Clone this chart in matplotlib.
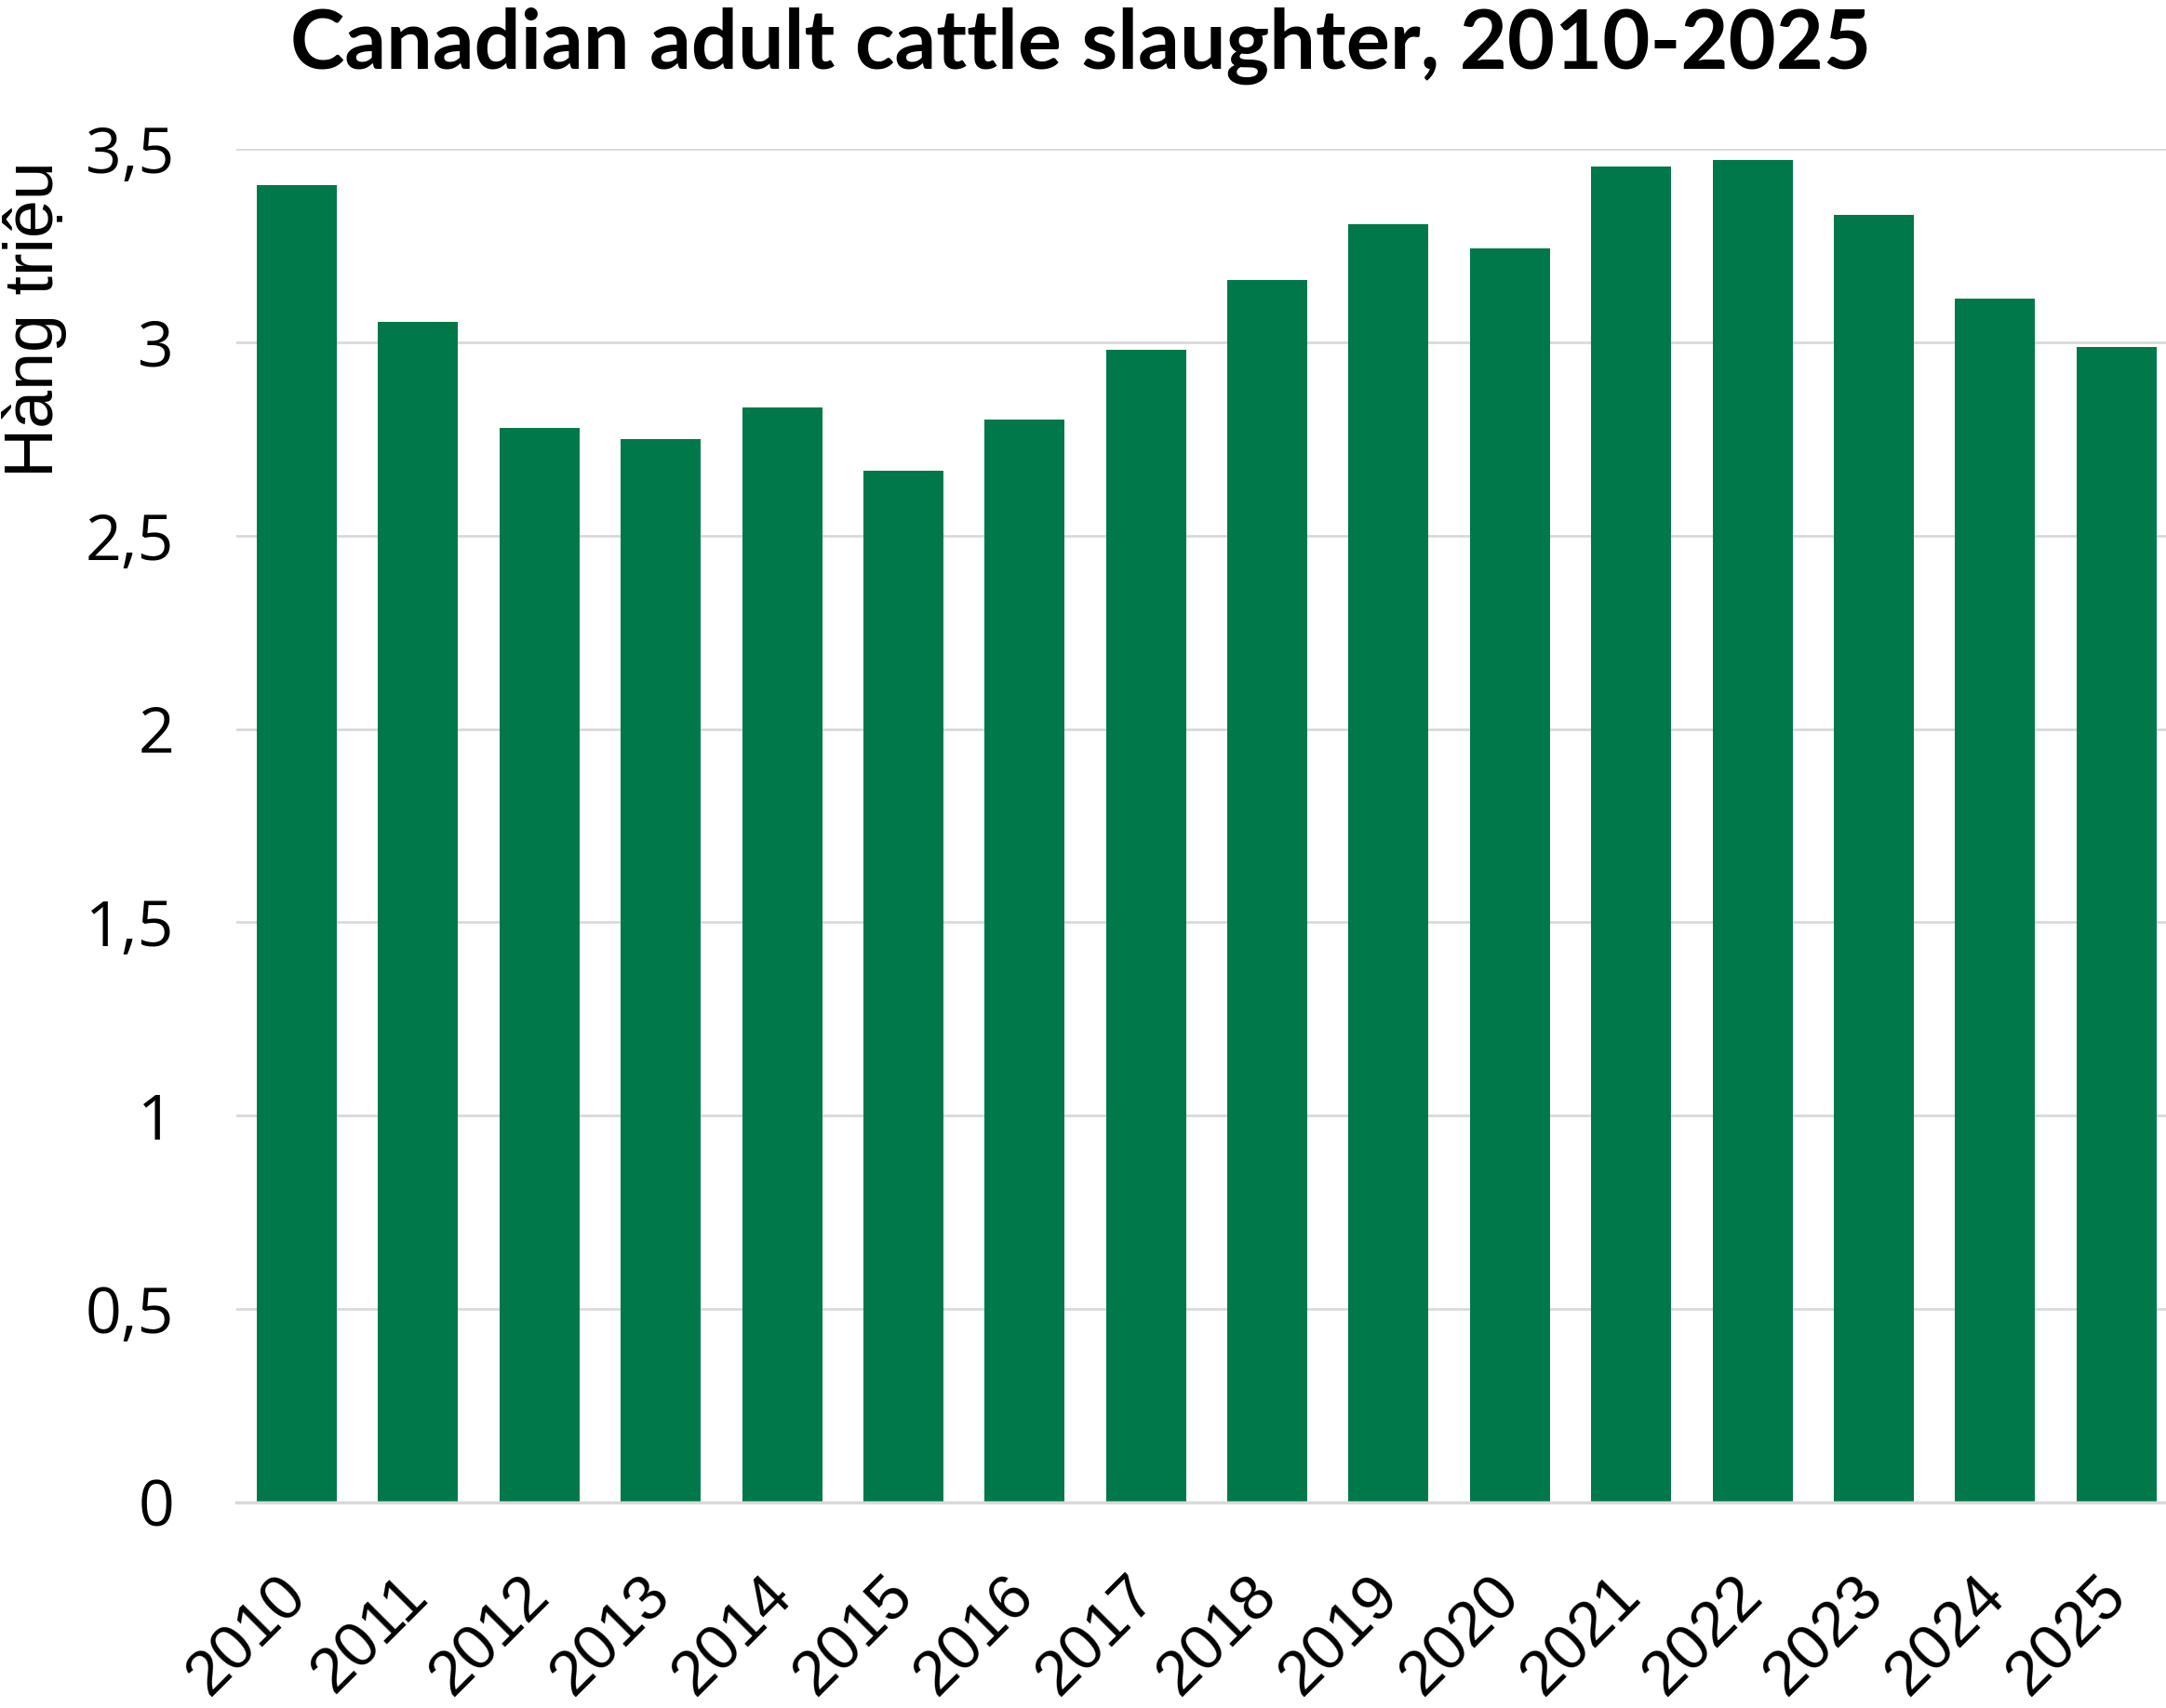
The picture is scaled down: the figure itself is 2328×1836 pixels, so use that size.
import matplotlib
matplotlib.use("Agg")
import matplotlib.pyplot as plt
from matplotlib.transforms import ScaledTranslation

years = ["2010", "2011", "2012", "2013", "2014", "2015", "2016", "2017",
         "2018", "2019", "2020", "2021", "2022", "2023", "2024", "2025"]
slaughter_millions = [3.407, 3.054, 2.779, 2.750, 2.832, 2.668, 2.800, 2.982,
                      3.161, 3.307, 3.243, 3.454, 3.471, 3.329, 3.114, 2.989]
yticks = [0, 0.5, 1, 1.5, 2, 2.5, 3, 3.5]
ytick_labels = ["0", "0,5", "1", "1,5", "2", "2,5", "3", "3,5"]
title = "Canadian adult cattle slaughter, 2010-2025"
ylabel = "Hàng triệu"

GREEN = "#00784A"
GRID = "#D9D9D9"

fig = plt.figure(figsize=(23.28, 18.36), dpi=100)
ax = fig.add_axes([171/1568, 1 - 1088/1237, (1576 - 171)/1568, (1088 - 108)/1237])

x = list(range(len(years)))
ax.bar(x, slaughter_millions, width=0.66, color=GREEN, zorder=2)
ax.set_xlim(-0.5, len(years) - 0.5)
ax.set_ylim(0, 3.5)

ax.set_yticks(yticks)
ax.set_yticklabels(ytick_labels, fontsize=49, family=["Open Sans", "DejaVu Sans"])
ax.set_xticks(x)
ax.set_xticklabels(years, fontsize=49, rotation=45, ha="right", va="top",
                   rotation_mode="anchor", family=["Liberation Sans", "DejaVu Sans"])
ax.tick_params(axis="both", length=0)
ax.tick_params(axis="y", pad=48)
ax.tick_params(axis="x", pad=40)

offset = ScaledTranslation(-22/100, -12/100, fig.dpi_scale_trans)
for lbl in ax.get_xticklabels():
    lbl.set_transform(lbl.get_transform() + offset)

ax.grid(axis="y", color=GRID, linewidth=2, zorder=0)
for s in ["top", "right", "left"]:
    ax.spines[s].set_visible(False)
ax.spines["bottom"].set_color(GRID)
ax.spines["bottom"].set_linewidth(2.5)
ax.spines["bottom"].set_zorder(3)

fig.text(25/1568, 1 - 231/1237, ylabel, rotation=90, ha="center", va="center",
         fontsize=53, family=["Liberation Sans", "DejaVu Sans"])

fig.text(0.4988, 1 - 33/1237, title, ha="center", va="center", fontsize=63.5,
         fontweight="bold", family=["Lato", "DejaVu Sans"])

fig.savefig("out.png", dpi=100)
